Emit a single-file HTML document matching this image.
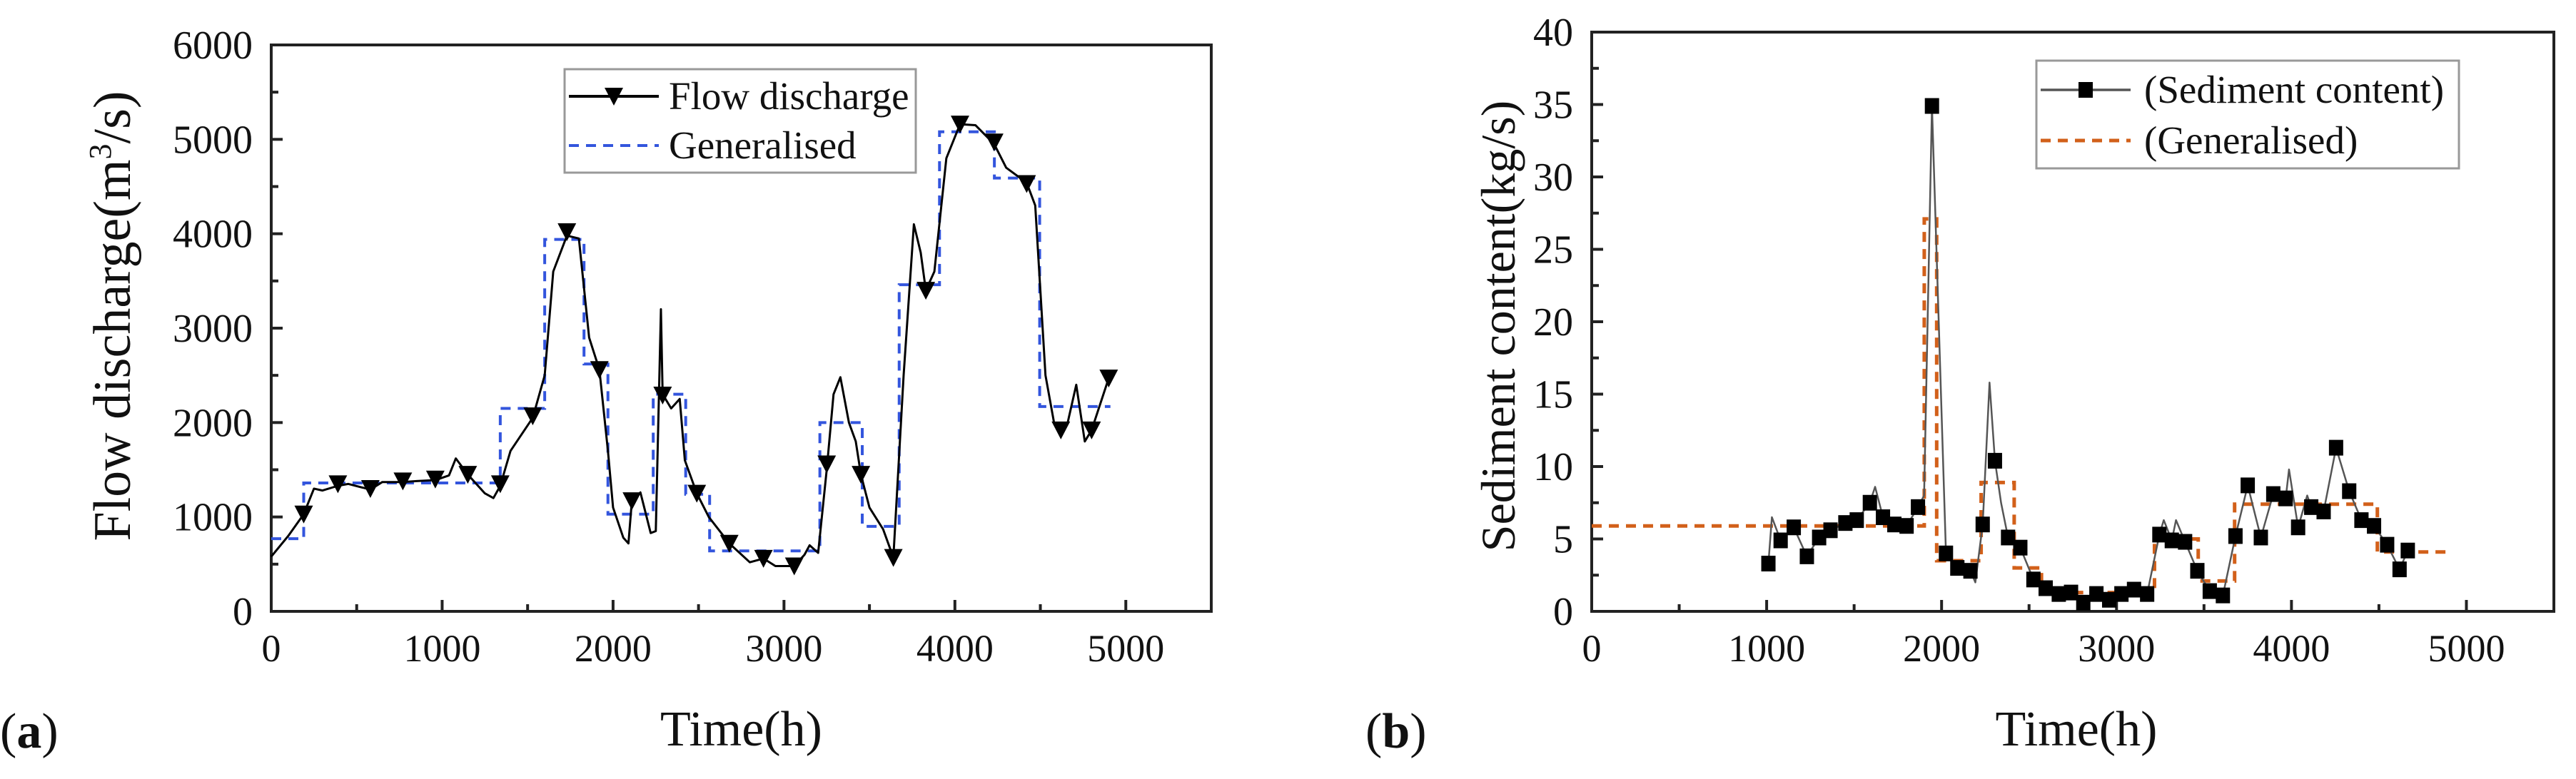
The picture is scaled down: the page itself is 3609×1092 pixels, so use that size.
<!DOCTYPE html>
<html><head><meta charset="utf-8"><style>
html,body{margin:0;padding:0;background:#fff;}
svg{display:block;font-family:"Liberation Serif",serif;}
</style></head><body>
<svg id="chart" width="3609" height="1092" viewBox="0 0 3609 1092" xmlns="http://www.w3.org/2000/svg"></svg>
<script>
// ---- Panel (a) data ----
const flowT = [0,100,190,250,300,390,450,580,650,770,850,960,1040,1080,1150,1250,1300,1340,1400,1530,1600,1650,1730,1800,1860,1920,1970,2000,2060,2090,2110,2160,2220,2250,2280,2290,2340,2390,2420,2490,2560,2680,2800,2880,2950,3060,3120,3150,3200,3250,3290,3330,3380,3420,3450,3500,3580,3640,3700,3760,3800,3830,3880,3950,4030,4120,4230,4300,4420,4470,4530,4580,4620,4660,4710,4760,4800,4900];
const flowV = [580,800,1030,1300,1280,1330,1350,1290,1370,1370,1380,1390,1440,1620,1450,1250,1200,1330,1700,2050,2500,3600,3980,3950,2900,2560,1700,1100,780,720,1170,1260,830,850,3200,2300,2150,2250,1600,1250,1000,720,520,560,480,480,600,700,620,1500,2300,2480,2000,1800,1450,1100,870,570,2500,4100,3800,3400,3600,4800,5160,5150,4950,4700,4540,4300,2500,2000,1920,2000,2400,1800,1920,2470];
const flowMarkT = [190,390,580,770,960,1150,1340,1530,1730,1920,2110,2290,2490,2680,2880,3060,3250,3450,3640,3830,4030,4230,4420,4620,4800,4900];
const flowMarkV = [1030,1350,1300,1380,1400,1450,1350,2070,4020,2560,1170,2290,1250,720,560,480,1560,1450,570,3400,5160,4970,4530,1920,1920,2470];
const genAEdges = [0,190,1340,1600,1830,1970,2235,2425,2565,3210,3458,3674,3910,4231,4496,4910];
const genAVals = [770,1360,2150,3940,2620,1030,2300,1240,640,2000,900,3460,5080,4590,2170];
const aXTicks = [0,1000,2000,3000,4000,5000];
const aYTicks = [0,1000,2000,3000,4000,5000,6000];

// ---- Panel (b) data ----
const sedT = [1010,1030,1080,1155,1200,1230,1300,1365,1450,1515,1590,1620,1665,1730,1800,1865,1900,1945,2025,2090,2165,2193,2235,2274,2305,2340,2380,2450,2525,2595,2670,2740,2810,2885,2958,3028,3100,3175,3245,3270,3316,3340,3392,3462,3533,3608,3680,3750,3825,3896,3967,3986,4038,4090,4113,4184,4255,4330,4400,4472,4547,4618,4665];
const sedV = [3.3,6.5,4.9,5.8,4.6,3.8,5.1,5.6,6.1,6.3,7.5,8.6,6.5,6.0,5.9,7.2,8.0,34.9,4.0,3.0,2.8,2.0,6.0,15.8,10.4,7.5,5.1,4.4,2.2,1.6,1.2,1.3,0.6,1.2,0.8,1.2,1.5,1.2,5.3,6.3,4.9,6.3,4.8,2.8,1.4,1.1,5.2,8.7,5.1,8.1,7.8,9.8,5.8,8.0,7.2,6.9,11.3,8.3,6.3,5.9,4.6,2.9,4.2];
const sedMarkT = [1010,1080,1155,1230,1300,1365,1450,1515,1590,1665,1730,1800,1865,1945,2025,2090,2165,2235,2305,2380,2450,2525,2595,2670,2740,2810,2885,2958,3028,3100,3175,3245,3316,3392,3462,3533,3608,3680,3750,3825,3896,3967,4038,4113,4184,4255,4330,4400,4472,4547,4618,4665];
const sedMarkV = [3.3,4.9,5.8,3.8,5.1,5.6,6.1,6.3,7.5,6.5,6.0,5.9,7.2,34.9,4.0,3.0,2.8,6.0,10.4,5.1,4.4,2.2,1.6,1.2,1.3,0.6,1.2,0.8,1.2,1.5,1.2,5.3,4.9,4.8,2.8,1.4,1.1,5.2,8.7,5.1,8.1,7.8,5.8,7.2,6.9,11.3,8.3,6.3,5.9,4.6,2.9,4.2];
const genBEdges = [0,1901,1972,2226,2415,2571,3217,3467,3675,4491,4882];
const genBVals = [5.9,27.1,3.5,8.9,3.0,1.3,5.0,2.1,7.4,4.1];
const bXTicks = [0,1000,2000,3000,4000,5000];
const bYTicks = [0,5,10,15,20,25,30,35,40];

const NS = "http://www.w3.org/2000/svg";
const svg = document.getElementById('chart');
function mk(tag, attrs, parent){
  const e = document.createElementNS(NS, tag);
  for (const k in attrs) e.setAttribute(k, attrs[k]);
  (parent||svg).appendChild(e);
  return e;
}

function panel(cfg){
  const g = mk('g', {});
  
  
  const X = v => cfg.x0 + (v - cfg.xmin) / (cfg.xmax - cfg.xmin) * (cfg.x1 - cfg.x0);
  const Y = v => cfg.y0 - (v - cfg.ymin) / (cfg.ymax - cfg.ymin) * (cfg.y0 - cfg.y1);
  const fr = mk('rect', {x:cfg.x0, y:cfg.y1, width:cfg.x1-cfg.x0, height:cfg.y0-cfg.y1, fill:'none', stroke:'#222', 'stroke-width':4}, g);
  
  
  const xStep = cfg.xt[1]-cfg.xt[0];
  for (let v = cfg.xmin; v <= cfg.xmax + 1e-9; v += xStep/2){
    const major = Math.abs((v / xStep) - Math.round(v / xStep)) < 1e-6;
    mk('line', {x1:X(v), x2:X(v), y1:cfg.y0, y2:cfg.y0-(major?16:10), stroke:'#222', 'stroke-width':4}, g);
  }
  cfg.xt.forEach(v=>{
    const t = mk('text', {x:X(v), y:cfg.y0+70, 'font-size':54, 'text-anchor':'middle', fill:'#111'}, g);
    t.textContent = v;
    
    
  });
  const yStep = cfg.yt[1]-cfg.yt[0];
  for (let v = cfg.ymin; v <= cfg.ymax + 1e-9; v += yStep/2){
    const major = Math.abs((v / yStep) - Math.round(v / yStep)) < 1e-6;
    mk('line', {x1:cfg.x0, x2:cfg.x0+(major?16:10), y1:Y(v), y2:Y(v), stroke:'#222', 'stroke-width':4}, g);
  }
  cfg.yt.forEach(v=>{
    const t = mk('text', {x:cfg.x0-26, y:Y(v)+19, 'font-size':56, 'text-anchor':'end', fill:'#111'}, g);
    t.textContent = v;
    
    
  });
  let d = '';
  cfg.gEdges.forEach((e,i)=>{
    if (i < cfg.gVals.length){
      d += (i===0 ? 'M' : 'L') + X(e) + ',' + Y(cfg.gVals[i]) + ' L' + X(cfg.gEdges[i+1]) + ',' + Y(cfg.gVals[i]) + ' ';
    }
  });
  const gp = mk('path', {d:d, fill:'none', stroke:cfg.gColor, 'stroke-width':cfg.gWidth, 'stroke-dasharray':cfg.gDash}, g);
  
  
  let ld = cfg.lt.map((t,i)=>(i?'L':'M')+X(t)+','+Y(cfg.lv[i])).join(' ');
  const lp = mk('path', {d:ld, fill:'none', stroke:cfg.lColor, 'stroke-width':cfg.lWidth, 'stroke-linejoin':'round'}, g);
  
  
  cfg.mt.forEach((t,i)=>{
    const cx = X(t), cy = Y(cfg.mv[i]);
    let m;
    if (cfg.marker === 'tri') m = mk('path', {d:`M${cx-13},${cy-12} L${cx+13},${cy-12} L${cx},${cy+13} Z`, fill:'#000'}, g);
    else m = mk('rect', {x:cx-10, y:cy-11, width:20, height:22, fill:'#000'}, g);
    
    
  });
  const L = cfg.legend;
  const lg = mk('g', {}, g);
  
  
  mk('rect', {x:L.x, y:L.y, width:L.w, height:L.h, fill:'#fff', stroke:'#999', 'stroke-width':3}, lg);
  mk('line', {x1:L.x+6, x2:L.x+132, y1:L.r1, y2:L.r1, stroke:cfg.lColor, 'stroke-width':cfg.lWidth+1}, lg);
  const lcx = L.x+69;
  if (cfg.marker === 'tri') mk('path', {d:`M${lcx-13},${L.r1-12} L${lcx+13},${L.r1-12} L${lcx},${L.r1+13} Z`, fill:'#000'}, lg);
  else mk('rect', {x:lcx-10, y:L.r1-11, width:20, height:22, fill:'#000'}, lg);
  mk('line', {x1:L.x+6, x2:L.x+132, y1:L.r2, y2:L.r2, stroke:cfg.gColor, 'stroke-width':cfg.gWidth, 'stroke-dasharray':cfg.gDash}, lg);
  const e1 = mk('text', {x:L.tx, y:L.r1+18, 'font-size':55, fill:'#111'}, lg); e1.textContent = L.t1;
  
  
  const e2 = mk('text', {x:L.tx, y:L.r2+18, 'font-size':55, fill:'#111'}, lg); e2.textContent = L.t2;
  
  
  const xt = mk('text', {x:(cfg.x0+cfg.x1)/2 - cfg.xtOff, y:1045, 'font-size':70, 'text-anchor':'middle', fill:'#111'}, g);
  xt.textContent = 'Time(h)';
  
  
  const yt = mk('text', {x:0, y:0, 'font-size':cfg.ytSize, 'text-anchor':'middle', fill:'#111', transform:`translate(${cfg.ytx},${cfg.yty}) rotate(-90)`}, g);
  yt.innerHTML = cfg.ytitle;
  
  
  const pl = mk('text', {x:cfg.plx, y:1048, 'font-size':70, fill:'#111'}, g);
  pl.innerHTML = cfg.plabel;
  
  
}

panel({name:'panel-a-flow-discharge', x0:380, x1:1697, y0:857, y1:63, xmin:0, xmax:5500, ymin:0, ymax:6000,
  xt:aXTicks, yt:aYTicks, gEdges:genAEdges, gVals:genAVals, gColor:'#3355dd', gWidth:4, gDash:'14,10',
  lt:flowT, lv:flowV, mt:flowMarkT, mv:flowMarkV, lColor:'#000', lWidth:3, marker:'tri',
  legend:{x:791, y:97, w:492, h:145, r1:135, r2:204, tx:937, t1:'Flow discharge', t2:'Generalised'},
  xtOff:0, ytx:182, yty:443, ytSize:74, ytitle:'Flow discharge(m<tspan font-size="44" dy="-27">3</tspan><tspan dy="27">/s)</tspan>',
  plx:0, plabel:'(<tspan font-weight="bold">a</tspan>)'});

panel({name:'panel-b-sediment-content', x0:2230, x1:3578, y0:857, y1:45, xmin:0, xmax:5500, ymin:0, ymax:40,
  xt:bXTicks, yt:bYTicks, gEdges:genBEdges, gVals:genBVals, gColor:'#d2601a', gWidth:5, gDash:'14,10',
  lt:sedT, lv:sedV, mt:sedMarkT, mv:sedMarkV, lColor:'#555', lWidth:2.5, marker:'sq',
  legend:{x:2853, y:85, w:592, h:151, r1:126, r2:197, tx:3004, t1:'(Sediment content)', t2:'(Generalised)'},
  xtOff:-5, ytx:2122, yty:457, ytSize:68, ytitle:'Sediment content(kg/s)',
  plx:1913, plabel:'(<tspan font-weight="bold">b</tspan>)'});
</script>
</body></html>
